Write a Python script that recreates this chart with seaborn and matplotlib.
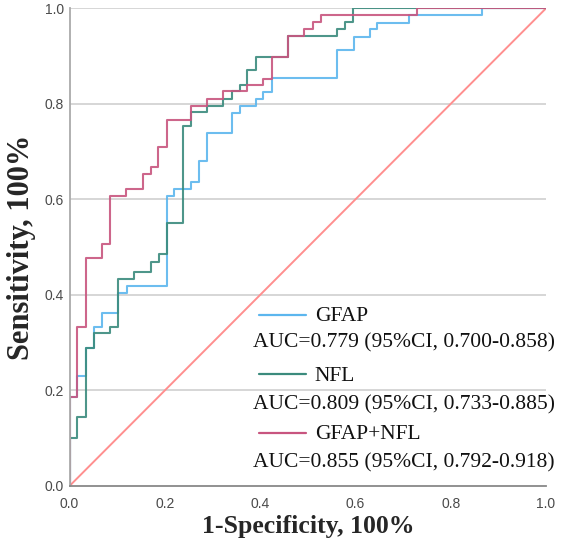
import matplotlib
matplotlib.use("Agg")
import matplotlib.pyplot as plt
import seaborn as sns
import pandas as pd
from matplotlib.lines import Line2D

# ROC step vertices: false-positive rate at each jump, sensitivity after it
gfap_fpr = [0, 0, 0.016, 0.035, 0.052, 0.069, 0.102, 0.120, 0.204, 0.220, 0.255, 0.271,
            0.288, 0.340, 0.357, 0.392, 0.407, 0.425, 0.561, 0.596, 0.631, 0.646, 0.713,
            0.866, 1.0]
gfap_tpr = [0, 0.187, 0.230, 0.289, 0.332, 0.362, 0.404, 0.419, 0.607, 0.621, 0.636, 0.681,
            0.739, 0.781, 0.796, 0.810, 0.825, 0.854, 0.913, 0.940, 0.956, 0.970, 0.985,
            1.0, 1.0]

nfl_fpr = [0, 0, 0.016, 0.035, 0.052, 0.085, 0.102, 0.136, 0.170, 0.188, 0.204, 0.239,
           0.255, 0.289, 0.323, 0.340, 0.358, 0.373, 0.391, 0.458, 0.561, 0.578, 0.595, 1.0]
nfl_tpr = [0, 0.100, 0.145, 0.289, 0.320, 0.333, 0.434, 0.449, 0.468, 0.485, 0.551, 0.753,
           0.782, 0.796, 0.810, 0.826, 0.840, 0.870, 0.898, 0.942, 0.956, 0.971, 1.0, 1.0]

combo_fpr = [0, 0, 0.016, 0.035, 0.068, 0.084, 0.119, 0.154, 0.170, 0.186, 0.204, 0.255,
             0.289, 0.323, 0.373, 0.407, 0.425, 0.458, 0.492, 0.510, 0.527, 0.730, 1.0]
combo_tpr = [0, 0.187, 0.333, 0.478, 0.507, 0.608, 0.621, 0.653, 0.667, 0.710, 0.767, 0.796,
             0.810, 0.826, 0.840, 0.853, 0.898, 0.942, 0.956, 0.971, 0.985, 1.0, 1.0]

ref_x = [0.0, 1.0]
ref_y = [0.0, 1.0]

names = ["GFAP", "NFL", "GFAP+NFL"]
auc_labels = ["AUC=0.779 (95%CI, 0.700-0.858)",
              "AUC=0.809 (95%CI, 0.733-0.885)",
              "AUC=0.855 (95%CI, 0.792-0.918)"]
colors = ["#5cb6ee", "#3b8b7d", "#c8557f"]
ref_color = "#ff8f8f"

yticks = [0.0, 0.2, 0.4, 0.6, 0.8, 1.0]
xticks = [0.0, 0.2, 0.4, 0.6, 0.8, 1.0]

sns.set_style("white")
plt.rcParams['font.family'] = ['Liberation Sans', 'DejaVu Sans']

fig = plt.figure(figsize=(5.66, 5.43), dpi=100)
ax = fig.add_axes([0.1228, 0.105, 0.8419, 0.8797])

for y in yticks[1:]:
    ax.axhline(y, color="#cfcfcf", lw=1.2, zorder=0)

sns.lineplot(x=ref_x, y=ref_y, ax=ax, color=ref_color, lw=1.4, sort=False,
             estimator=None, zorder=1)

series = [(gfap_fpr, gfap_tpr), (nfl_fpr, nfl_tpr), (combo_fpr, combo_tpr)]
for (fx, ty), c in zip(series, colors):
    df = pd.DataFrame({"fpr": fx, "tpr": ty})
    sns.lineplot(data=df, x="fpr", y="tpr", ax=ax, color=c, lw=1.5, sort=False,
                 estimator=None, drawstyle="steps-post", alpha=0.9, zorder=2)

ax.set_xlim(0, 1)
ax.set_ylim(0, 1)
ax.set_xticks(xticks)
ax.set_yticks(yticks)
ax.set_xticklabels([f"{t:.1f}" for t in xticks])
ax.set_yticklabels([f"{t:.1f}" for t in yticks])
ax.tick_params(length=0, labelsize=10, labelcolor="#4a4a4a")
ax.tick_params(axis="x", pad=8)
ax.tick_params(axis="y", pad=4)

for side in ["top", "right"]:
    ax.spines[side].set_visible(False)
ax.spines["left"].set_color("#aaaaaa")
ax.spines["bottom"].set_color("#888888")
ax.spines["left"].set_linewidth(1.3)
ax.spines["bottom"].set_linewidth(1.3)

ax.set_xlabel("1-Specificity, 100%", family="Liberation Serif", fontweight="bold",
              fontsize=18.5, labelpad=3)
ax.set_ylabel("Sensitivity, 100%", family="Liberation Serif", fontweight="bold",
              fontsize=22, labelpad=6)

# legend (handles + names + AUC text lines)
handle_y = [0.358, 0.234, 0.110]
name_y = [0.355, 0.230, 0.108]
auc_y = [0.299, 0.170, 0.0475]
for i in range(3):
    ax.add_line(Line2D([0.398, 0.497], [handle_y[i], handle_y[i]], transform=ax.transAxes,
                       color=colors[i], lw=1.6))
    ax.text(0.515, name_y[i], names[i], transform=ax.transAxes, family="Liberation Serif",
            fontsize=15.5, va="center", ha="left", color="#111111")
    ax.text(0.3845, auc_y[i], auc_labels[i], transform=ax.transAxes,
            family="Liberation Serif", fontsize=15.5, va="center", ha="left", color="#111111")

fig.savefig("out.png", dpi=100)
